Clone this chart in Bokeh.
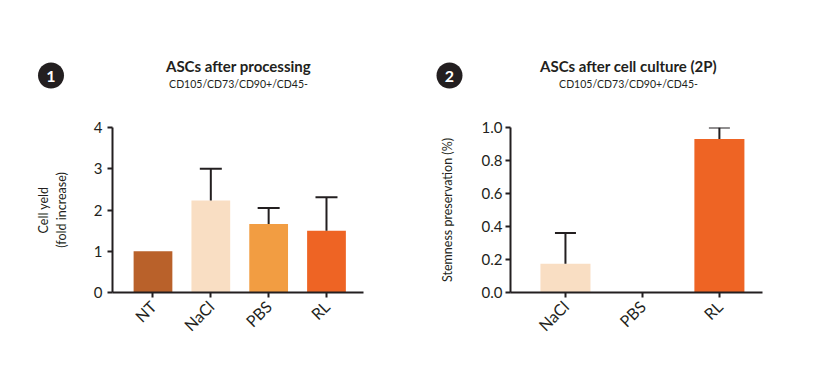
import math
from bokeh.plotting import figure
from bokeh.models import (Range1d, FixedTicker, Whisker, ColumnDataSource,
                          TeeHead, NumeralTickFormatter)
from bokeh.layouts import row, column
from bokeh.embed import file_html
from bokeh.resources import INLINE
from bokeh.core.properties import value

# ---------------- data ----------------
cats1 = ["NT", "NaCl", "PBS", "RL"]
vals1 = [1.0, 2.23, 1.66, 1.50]
errs1 = [0.0, 0.77, 0.39, 0.81]
colors1 = ["#B9612A", "#F9DEC3", "#F29D42", "#EE6424"]
yticks1 = [0, 1, 2, 3, 4]

cats2 = ["NaCl", "PBS", "RL"]
vals2 = [0.175, 0.0, 0.93]
errs2 = [0.185, 0.0, 0.07]
colors2 = ["#F9DEC3", "#F29D42", "#EE6424"]
yticks2 = [0.0, 0.2, 0.4, 0.6, 0.8, 1.0]

panel_numbers = ["1", "2"]
titles = ["ASCs after processing", "ASCs after cell culture (2P)"]
subtitles = ["CD105/CD73/CD90+/CD45-", "CD105/CD73/CD90+/CD45-"]

FONT = "Lato"
INK = "#231F20"
W1, W2 = 418, 409
HEAD_H = 100
CHART_H = 280

# header (panel badges + titles), in pixel units of the header strip
header = figure(width=W1 + W2, height=HEAD_H, x_range=Range1d(0, W1 + W2),
                y_range=Range1d(HEAD_H, 0), output_backend="svg",
                toolbar_location=None, min_border=0,
                x_axis_location=None, y_axis_location=None)
header.outline_line_color = None
header.grid.visible = False
badge_x = [50.5, 449]
title_x = [238, 628]
header.scatter(x=badge_x, y=[75, 75], size=26, marker="circle",
               fill_color=INK, line_color=None)
header.text(x=badge_x, y=[75.5, 75.5], text=panel_numbers, text_color="white",
            text_font=value(FONT), text_font_size="16px", text_font_style="bold",
            text_align="center", text_baseline="middle")
header.text(x=title_x, y=[65, 65], text=titles, text_color=INK,
            text_font=value(FONT), text_font_size="15px", text_font_style="bold",
            text_align="center", text_baseline="middle")
header.text(x=title_x, y=[83, 83], text=subtitles, text_color=INK,
            text_font=value(FONT), text_font_size="10.5px",
            text_align="center", text_baseline="middle")


def make_chart(cats, vals, errs, colors, yticks, ylabel, width, xr, yr,
               borders, bar_w, tee, ylab_standoff, tick_standoff, fmt=None):
    left, right, top, bottom = borders
    p = figure(width=width, height=CHART_H, x_range=Range1d(*xr), y_range=Range1d(*yr),
               output_backend="svg", toolbar_location=None,
               min_border_left=left, min_border_right=right,
               min_border_top=top, min_border_bottom=bottom)
    p.outline_line_color = None
    p.grid.visible = False

    xs = list(range(len(cats)))
    src = ColumnDataSource(dict(x=xs, top=vals, color=colors))
    p.vbar(x="x", top="top", width=bar_w, fill_color="color", line_color=None, source=src)

    ex = [x for x, e in zip(xs, errs) if e > 0]
    lo = [v for v, e in zip(vals, errs) if e > 0]
    hi = [v + e for v, e in zip(vals, errs) if e > 0]
    wsrc = ColumnDataSource(dict(x=ex, lower=lo, upper=hi))
    w = Whisker(source=wsrc, base="x", lower="lower", upper="upper",
                line_width=2, line_color=INK, lower_head=None,
                upper_head=TeeHead(size=tee, line_width=2, line_color=INK),
                level="overlay")
    p.add_layout(w)

    for ax in (p.xaxis[0], p.yaxis[0]):
        ax.axis_line_width = 2
        ax.axis_line_color = INK
        ax.major_tick_line_width = 2
        ax.major_tick_line_color = INK
        ax.major_tick_out = 5
        ax.major_tick_in = 0
        ax.minor_tick_line_color = None
        ax.major_label_text_font = FONT
        ax.major_label_text_font_size = "15px"
        ax.major_label_text_color = INK

    p.xaxis.ticker = FixedTicker(ticks=xs)
    p.xaxis.major_label_overrides = {i: c for i, c in enumerate(cats)}
    p.xaxis.major_label_orientation = math.pi / 4
    p.xaxis.major_label_standoff = 6
    p.xaxis.major_label_text_font_size = "16px"

    p.yaxis.ticker = FixedTicker(ticks=yticks)
    p.yaxis.major_label_standoff = tick_standoff
    if fmt:
        p.yaxis.formatter = NumeralTickFormatter(format=fmt)
    p.yaxis.axis_label = ylabel
    p.yaxis.axis_label_text_font = FONT
    p.yaxis.axis_label_text_font_size = "12.5px"
    p.yaxis.axis_label_text_font_style = "normal"
    p.yaxis.axis_label_text_color = INK
    p.yaxis.axis_label_standoff = ylab_standoff
    return p


p1 = make_chart(cats1, vals1, errs1, colors1, yticks1, "Cell yeld\n(fold increase)",
                W1, (-0.7, 3.64), (0, 4), (112, 55, 124 - HEAD_H, CHART_H - (292 - HEAD_H)),
                0.67, 22, 22, 5)
p2 = make_chart(cats2, vals2, errs2, colors2, yticks2, "Stemness preservation (%)",
                W2, (-0.714, 2.56), (0, 1.0), (92, W2 - 344, 127 - HEAD_H, CHART_H - (294 - HEAD_H)),
                0.65, 21, 24, 3, fmt="0.0")

layout = column(header, row(p1, p2))
open("out.html", "w").write(file_html(layout, INLINE))
